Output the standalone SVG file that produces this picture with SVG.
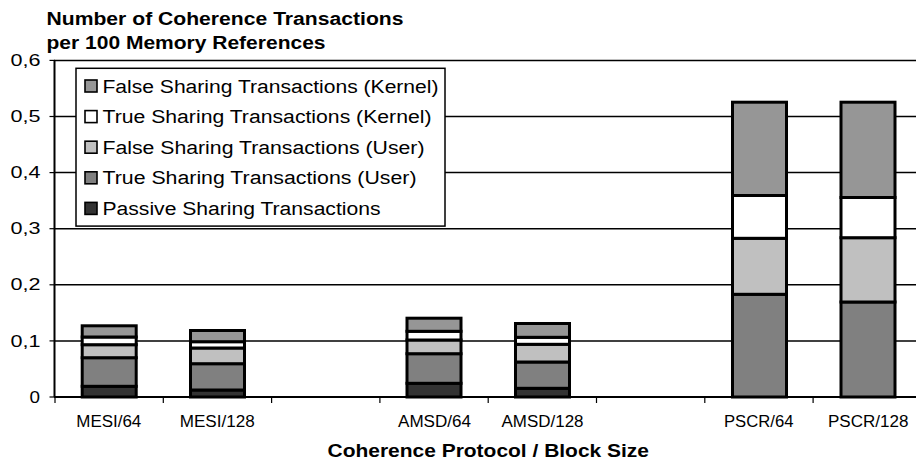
<svg xmlns="http://www.w3.org/2000/svg" width="916" height="461" viewBox="0 0 916 461">
<style>
.t{font-family:"Liberation Sans",Arial,sans-serif;fill:#000}
.b{font-weight:bold}
.grid{stroke:#000;stroke-width:1.5;fill:none}
.ax{stroke:#000;stroke-width:2;fill:none}
.tk{stroke:#000;stroke-width:1.2;fill:none}
.seg{stroke:#000;stroke-width:3}
.sw{stroke:#000;stroke-width:1.6}
.fk{fill:#969696}.tkn{fill:#ffffff}.fu{fill:#c0c0c0}.tu{fill:#808080}.ps{fill:#333333}
</style>
<rect x="0" y="0" width="916" height="461" fill="#fff"/>
<g id="titles">
<text class="t b" x="46.5" y="25" font-size="18" textLength="357" lengthAdjust="spacingAndGlyphs">Number of Coherence Transactions</text>
<text class="t b" x="46.5" y="49" font-size="18" textLength="279" lengthAdjust="spacingAndGlyphs">per 100 Memory References</text>
<text class="t b" x="327.5" y="456.5" font-size="17.5" textLength="321.5" lengthAdjust="spacingAndGlyphs">Coherence Protocol / Block Size</text>
</g>
<g id="grid">
<line class="grid" x1="55" y1="340.9" x2="916" y2="340.9"/>
<line class="grid" x1="55" y1="284.8" x2="916" y2="284.8"/>
<line class="grid" x1="55" y1="228.7" x2="916" y2="228.7"/>
<line class="grid" x1="55" y1="172.6" x2="916" y2="172.6"/>
<line class="grid" x1="55" y1="116.5" x2="916" y2="116.5"/>
<line class="grid" x1="54" y1="60.4" x2="916" y2="60.4"/>
</g>
<g id="axes">
<line class="ax" x1="54.5" y1="60" x2="54.5" y2="397"/>
<line class="ax" x1="54" y1="397" x2="916" y2="397"/>
<g class="tk">
<line x1="49.5" y1="60.4" x2="55" y2="60.4"/>
<line x1="49.5" y1="116.5" x2="55" y2="116.5"/>
<line x1="49.5" y1="172.6" x2="55" y2="172.6"/>
<line x1="49.5" y1="228.7" x2="55" y2="228.7"/>
<line x1="49.5" y1="284.8" x2="55" y2="284.8"/>
<line x1="49.5" y1="340.9" x2="55" y2="340.9"/>
<line x1="49.5" y1="397" x2="55" y2="397"/>
<line x1="55" y1="397" x2="55" y2="403"/>
<line x1="163.3" y1="397" x2="163.3" y2="403"/>
<line x1="271.6" y1="397" x2="271.6" y2="403"/>
<line x1="379.9" y1="397" x2="379.9" y2="403"/>
<line x1="488.2" y1="397" x2="488.2" y2="403"/>
<line x1="596.5" y1="397" x2="596.5" y2="403"/>
<line x1="704.8" y1="397" x2="704.8" y2="403"/>
<line x1="813.1" y1="397" x2="813.1" y2="403"/>
</g>
<g class="t" font-size="16.3">
<text x="10.5" y="66" textLength="30" lengthAdjust="spacingAndGlyphs">0,6</text>
<text x="10.5" y="122" textLength="30" lengthAdjust="spacingAndGlyphs">0,5</text>
<text x="10.5" y="178.2" textLength="30" lengthAdjust="spacingAndGlyphs">0,4</text>
<text x="10.5" y="234.3" textLength="30" lengthAdjust="spacingAndGlyphs">0,3</text>
<text x="10.5" y="290.4" textLength="30" lengthAdjust="spacingAndGlyphs">0,2</text>
<text x="10.5" y="346.5" textLength="30" lengthAdjust="spacingAndGlyphs">0,1</text>
<text x="29.5" y="403" textLength="10.5" lengthAdjust="spacingAndGlyphs">0</text>
</g>
<g class="t" font-size="16">
<text x="76.3" y="427" textLength="65" lengthAdjust="spacingAndGlyphs">MESI/64</text>
<text x="179.7" y="427" textLength="75" lengthAdjust="spacingAndGlyphs">MESI/128</text>
<text x="398" y="427" textLength="73" lengthAdjust="spacingAndGlyphs">AMSD/64</text>
<text x="501.5" y="427" textLength="82" lengthAdjust="spacingAndGlyphs">AMSD/128</text>
<text x="724" y="427" textLength="69.5" lengthAdjust="spacingAndGlyphs">PSCR/64</text>
<text x="828" y="427" textLength="80.5" lengthAdjust="spacingAndGlyphs">PSCR/128</text>
</g>
</g>
<g id="legend">
<rect x="76" y="68.3" width="369" height="157.8" fill="#fff" stroke="#000" stroke-width="1.5"/>
<rect class="sw fk" x="85" y="80" width="12" height="12"/>
<rect class="sw tkn" x="85" y="110.6" width="12" height="12"/>
<rect class="sw fu" x="85" y="141.2" width="12" height="12"/>
<rect class="sw tu" x="85" y="171.8" width="12" height="12"/>
<rect class="sw ps" x="85" y="202.4" width="12" height="12"/>
<g class="t" font-size="18">
<text x="102.5" y="92.6" textLength="336" lengthAdjust="spacingAndGlyphs">False Sharing Transactions (Kernel)</text>
<text x="102.5" y="123.2" textLength="329" lengthAdjust="spacingAndGlyphs">True Sharing Transactions (Kernel)</text>
<text x="102.5" y="153.8" textLength="322" lengthAdjust="spacingAndGlyphs">False Sharing Transactions (User)</text>
<text x="102.5" y="184.4" textLength="314" lengthAdjust="spacingAndGlyphs">True Sharing Transactions (User)</text>
<text x="102.5" y="215" textLength="278" lengthAdjust="spacingAndGlyphs">Passive Sharing Transactions</text>
</g>
</g>
<g id="bar-mesi-64">
<rect class="seg ps" x="82.2" y="386.3" width="54" height="10.7"/>
<rect class="seg tu" x="82.2" y="357.7" width="54" height="28.6"/>
<rect class="seg fu" x="82.2" y="344.7" width="54" height="13"/>
<rect class="seg tkn" x="82.2" y="337" width="54" height="7.7"/>
<rect class="seg fk" x="82.2" y="325.8" width="54" height="11.2"/>
</g>
<g id="bar-mesi-128">
<rect class="seg ps" x="190.5" y="390" width="54" height="7"/>
<rect class="seg tu" x="190.5" y="363.7" width="54" height="26.3"/>
<rect class="seg fu" x="190.5" y="348" width="54" height="15.7"/>
<rect class="seg tkn" x="190.5" y="341.7" width="54" height="6.3"/>
<rect class="seg fk" x="190.5" y="330.5" width="54" height="11.2"/>
</g>
<g id="bar-amsd-64">
<rect class="seg ps" x="407" y="383.3" width="54" height="13.7"/>
<rect class="seg tu" x="407" y="353.7" width="54" height="29.6"/>
<rect class="seg fu" x="407" y="340" width="54" height="13.7"/>
<rect class="seg tkn" x="407" y="331.3" width="54" height="8.7"/>
<rect class="seg fk" x="407" y="318.2" width="54" height="13.1"/>
</g>
<g id="bar-amsd-128">
<rect class="seg ps" x="515.5" y="388.3" width="54" height="8.7"/>
<rect class="seg tu" x="515.5" y="362" width="54" height="26.3"/>
<rect class="seg fu" x="515.5" y="344.3" width="54" height="17.7"/>
<rect class="seg tkn" x="515.5" y="337.3" width="54" height="7"/>
<rect class="seg fk" x="515.5" y="323.5" width="54" height="13.8"/>
</g>
<g id="bar-pscr-64">
<rect class="seg tu" x="732.5" y="294.3" width="54" height="102.7"/>
<rect class="seg fu" x="732.5" y="238.3" width="54" height="56"/>
<rect class="seg tkn" x="732.5" y="195.5" width="54" height="42.8"/>
<rect class="seg fk" x="732.5" y="102.2" width="54" height="93.3"/>
</g>
<g id="bar-pscr-128">
<rect class="seg tu" x="841" y="302" width="54" height="95"/>
<rect class="seg fu" x="841" y="237.7" width="54" height="64.3"/>
<rect class="seg tkn" x="841" y="197.5" width="54" height="40.2"/>
<rect class="seg fk" x="841" y="102.2" width="54" height="95.3"/>
</g>
<g id="connectors"/>
</svg>
